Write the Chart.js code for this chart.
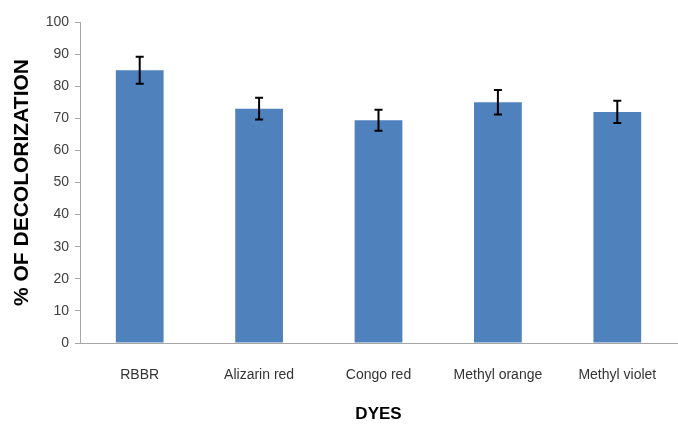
<!DOCTYPE html>
<html>
<head>
<meta charset="utf-8">
<script src="https://cdn.jsdelivr.net/npm/chart.js@4"></script>
<style>
  html, body { margin: 0; padding: 0; background: #fff; }
  #wrap { width: 678px; height: 425px; }
</style>
</head>
<body>
<div id="wrap"><canvas id="dyeChart"></canvas></div>
<script>
// values
const dyes = ['RBBR', 'Alizarin red', 'Congo red', 'Methyl orange', 'Methyl violet'];
const decolorization = [85, 73, 69.4, 75, 72];
const errors = [4.2, 3.4, 3.3, 3.8, 3.5];
const yTicks = [0, 10, 20, 30, 40, 50, 60, 70, 80, 90, 100];

// simple error bar plugin, uses the chart's own scales
const errorBars = {
    id: 'errorBars',
    afterDatasetsDraw(chart) {
        const ctx = chart.ctx;
        const xs = chart.scales.x, ys = chart.scales.y;
        ctx.save();
        ctx.strokeStyle = '#000';
        ctx.lineWidth = 2;
        decolorization.forEach((v, i) => {
            const x = xs.getPixelForValue(i);
            const top = ys.getPixelForValue(v + errors[i]);
            const bot = ys.getPixelForValue(v - errors[i]);
            ctx.beginPath();
            ctx.moveTo(x, top); ctx.lineTo(x, bot);
            ctx.moveTo(x - 4, top); ctx.lineTo(x + 4, top);
            ctx.moveTo(x - 4, bot); ctx.lineTo(x + 4, bot);
            ctx.stroke();
        });
        ctx.restore();
    }
};

new Chart(document.getElementById('dyeChart'), {
    type: 'bar',
    data: {
        labels: dyes,
        datasets: [{
            data: decolorization,
            backgroundColor: '#4F81BD',
            categoryPercentage: 1,
            barPercentage: 0.4
        }]
    },
    options: {
        responsive: true,
        maintainAspectRatio: false,
        animation: false,
        layout: { padding: { top: 22, right: 1, left: 0, bottom: 0 } },
        plugins: {
            legend: { display: false },
            tooltip: { enabled: false }
        },
        scales: {
            x: {
                afterFit: s => { s.height = 82; s.paddingRight = 0; s.paddingLeft = 0; },
                // invisible tick marks just push the labels down
                grid: { display: true, drawOnChartArea: false, drawTicks: true, tickLength: 24, color: 'transparent' },
                border: { display: true, color: '#A6A6A6', width: 1 },
                ticks: {
                    padding: 0,
                    color: '#333',
                    maxRotation: 0,
                    font: { family: '"Liberation Sans", Arial, sans-serif', size: 14 }
                },
                title: {
                    display: true,
                    text: 'DYES',
                    color: '#000',
                    padding: { top: 0, bottom: 0 },
                    font: { family: '"Liberation Sans", Arial, sans-serif', size: 17, weight: 'bold' }
                }
            },
            y: {
                min: 0,
                max: 100,
                afterFit: s => { s.width = 80; },
                afterBuildTicks: s => { s.ticks = yTicks.map(v => ({ value: v })); },
                grid: { drawOnChartArea: false, drawTicks: true, tickLength: 5, color: '#A6A6A6' },
                border: { display: true, color: '#A6A6A6', width: 1 },
                ticks: {
                    padding: 6,
                    color: '#404040',
                    font: { family: '"Liberation Sans", Arial, sans-serif', size: 14 }
                },
                title: {
                    display: true,
                    text: '% OF DECOLORIZATION',
                    color: '#000',
                    padding: { top: 10, bottom: 0 },
                    font: { family: '"Liberation Sans", Arial, sans-serif', size: 21, weight: 'bold' }
                }
            }
        }
    },
    plugins: [errorBars]
});
</script>
</body>
</html>
